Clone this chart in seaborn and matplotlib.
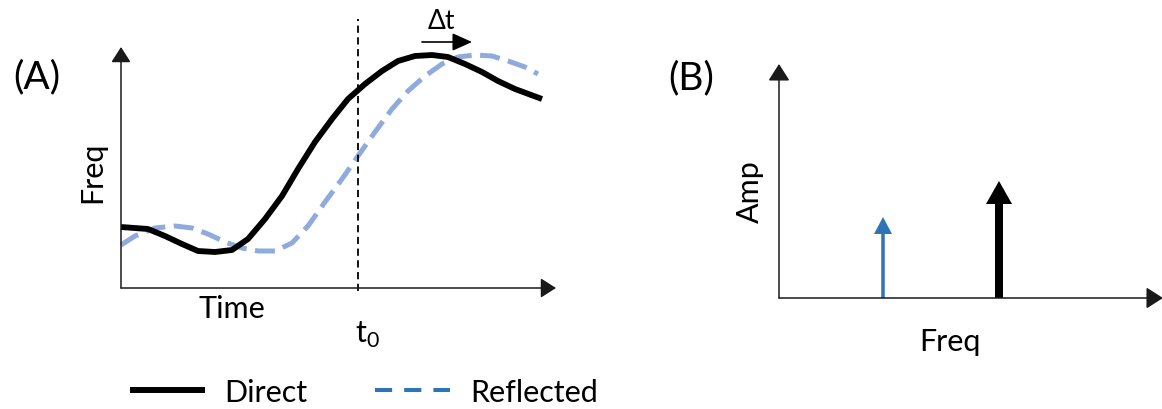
import matplotlib
matplotlib.use("Agg")
import matplotlib.pyplot as plt
from matplotlib.lines import Line2D
import seaborn as sns
import pandas as pd

sns.set_style("white")
plt.rcParams['font.family'] = ['Lato', 'DejaVu Sans']
plt.rcParams['text.color'] = 'black'

# ---------------- data ----------------
# Panel A: time–frequency curves (arbitrary units)
direct_time = [0, 27, 44, 61, 77, 94, 111, 127, 144, 161, 177, 194, 211, 227,
               244, 261, 277, 294, 311, 327, 344, 361, 377, 394, 421]
direct_freq = [61, 59, 52, 44, 37, 36, 38, 49, 69, 92, 119, 146, 169, 189,
               204, 217, 227, 232, 233, 231, 224, 216, 207, 199, 189]
reflected_time = [0, 14, 34, 54, 71, 87, 104, 121, 137, 154, 171, 187, 204, 221,
                  237, 254, 271, 287, 304, 321, 337, 354, 371, 387, 404, 417]
reflected_freq = [43, 52, 60, 62, 60, 54, 46, 40, 37, 37, 45, 62, 86, 109,
                  132, 156, 179, 197, 212, 224, 231, 233, 232, 227, 221, 214]
t0 = 237
dt_start, dt_end = 301, 351

# Panel B: spectrum lines
spec_labels = ["Reflected", "Direct"]
spec_freq = [104, 220]
spec_amp = [81, 117]

legend_labels = ["Direct", "Reflected"]

# ---------------- figure ----------------
W, H = 1162, 410
fig = plt.figure(figsize=(W / 100, H / 100), dpi=100)
fig.patch.set_facecolor("white")

AX_COL = "#1a1a1a"
BLACK = "#000000"
LIGHT_BLUE = "#8FAADC"
BLUE = "#2E75B6"


def axis_arrows(ax, mscale):
    style = "-|>,head_length=0.47,head_width=0.3"
    for xy in [(1, 0), (0, 1)]:
        ax.annotate("", xy=xy, xytext=(0, 0), xycoords="axes fraction",
                    textcoords="axes fraction",
                    arrowprops=dict(arrowstyle=style, mutation_scale=mscale,
                                    lw=1.1, color=AX_COL, shrinkA=0, shrinkB=0))


# Panel A
axA = fig.add_axes([121 / W, (H - 289) / H, 435 / W, 241 / H])
axA.set_xlim(0, 435)
axA.set_ylim(0, 241)
axA.axis("off")
axis_arrows(axA, 20)

dfA_direct = pd.DataFrame({"time": direct_time, "freq": direct_freq})
dfA_refl = pd.DataFrame({"time": reflected_time, "freq": reflected_freq})
sns.lineplot(data=dfA_refl, x="time", y="freq", ax=axA, color=LIGHT_BLUE,
             lw=3.6, linestyle=(0, (4, 1.7)), legend=False, clip_on=False,
             dash_joinstyle="round")
sns.lineplot(data=dfA_direct, x="time", y="freq", ax=axA, color=BLACK,
             lw=4.2, legend=False, clip_on=False, solid_capstyle="butt",
             solid_joinstyle="round")

axA.axvline(t0, ymin=-0.012, ymax=1.116, color=BLACK, lw=1.3,
            linestyle=(0, (4, 2.5)), clip_on=False)
axA.annotate("", xy=(dt_end, 246), xytext=(dt_start, 246), xycoords="data",
             annotation_clip=False,
             arrowprops=dict(arrowstyle="-|>,head_length=0.6,head_width=0.27",
                             mutation_scale=20, lw=1.2, color=BLACK,
                             shrinkA=0, shrinkB=0))
axA.text((dt_start + dt_end) / 2 - 6, 268, "Δt", fontsize=19, ha="center",
         va="center", color="black")

# Panel B
axB = fig.add_axes([779 / W, (H - 299) / H, 384 / W, 234 / H])
axB.set_xlim(0, 384)
axB.set_ylim(0, 234)
axB.axis("off")
axis_arrows(axB, 22)

spec_style = {"Reflected": dict(color=BLUE, width=3.5, head_width=18, head_length=17),
              "Direct": dict(color=BLACK, width=8, head_width=26, head_length=23)}
for lab, f, a in zip(spec_labels, spec_freq, spec_amp):
    st = spec_style[lab]
    axB.arrow(f, 0, 0, a, width=st["width"], head_width=st["head_width"],
              head_length=st["head_length"], length_includes_head=True,
              fc=st["color"], ec=st["color"], lw=0, clip_on=False)


# ---------------- text ----------------
def ftext(x, y, s, **kw):
    fig.text(x / W, 1 - y / H, s, color="black", **kw)


ftext(37, 77, "(A)", fontsize=28, ha="center", va="center")
ftext(691, 78, "(B)", fontsize=28, ha="center", va="center")
ftext(92, 172, "Freq", fontsize=22, rotation=90, ha="center", va="center")
ftext(232, 309, "Time", fontsize=22, ha="center", va="center")
ftext(355, 343, r"t$_\mathregular{0}$", fontsize=22, ha="left", va="baseline")
ftext(750, 192, "Amp", fontsize=22, rotation=90, ha="center", va="center")
ftext(950, 342, "Freq", fontsize=22, ha="center", va="center")

# ---------------- legend ----------------
handles = [Line2D([], [], color=BLACK, lw=4.3, solid_capstyle="butt"),
           Line2D([], [], color=BLUE, lw=2.9, linestyle=(0, (4.25, 3)))]
fig.legend(handles, legend_labels, loc="center left",
           bbox_to_anchor=(130 / W, 1 - 393 / H), ncol=2, frameon=False,
           fontsize=22, handlelength=2.45, handletextpad=0.65,
           columnspacing=2.2, borderpad=0, borderaxespad=0, labelcolor="black")

fig.savefig("out.png", dpi=100, facecolor="white")
